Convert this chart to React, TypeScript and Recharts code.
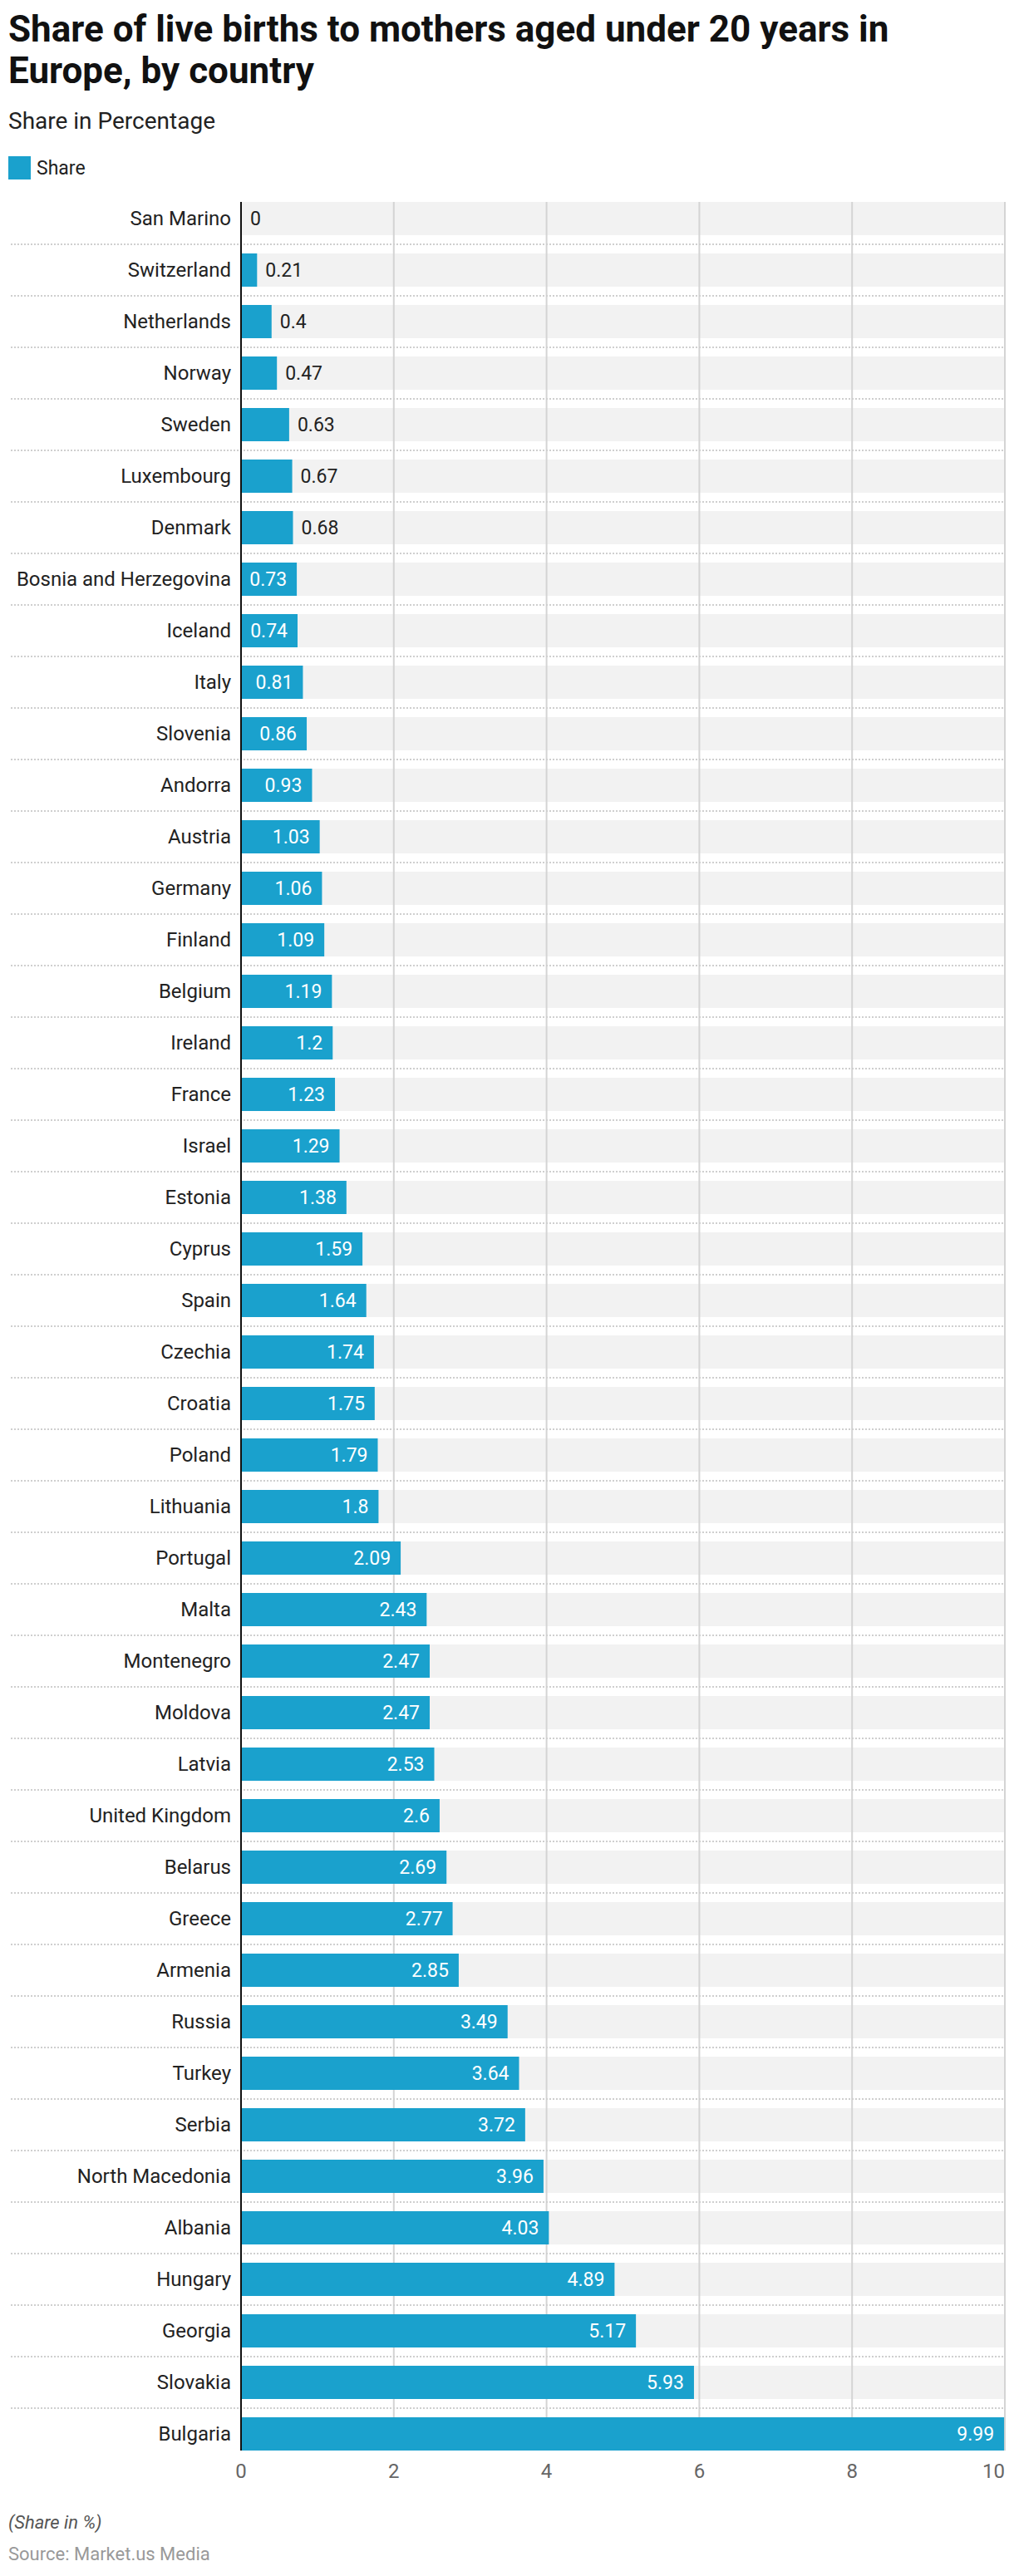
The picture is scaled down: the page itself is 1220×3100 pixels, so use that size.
import React from "react";
import { BarChart, Bar, XAxis, YAxis, CartesianGrid, LabelList } from "recharts";

const countries = [
  "San Marino", "Switzerland", "Netherlands", "Norway", "Sweden", "Luxembourg", "Denmark",
  "Bosnia and Herzegovina", "Iceland", "Italy", "Slovenia", "Andorra", "Austria", "Germany",
  "Finland", "Belgium", "Ireland", "France", "Israel", "Estonia", "Cyprus", "Spain", "Czechia",
  "Croatia", "Poland", "Lithuania", "Portugal", "Malta", "Montenegro", "Moldova", "Latvia",
  "United Kingdom", "Belarus", "Greece", "Armenia", "Russia", "Turkey", "Serbia",
  "North Macedonia", "Albania", "Hungary", "Georgia", "Slovakia", "Bulgaria",
];

const shares = [
  0, 0.21, 0.4, 0.47, 0.63, 0.67, 0.68,
  0.73, 0.74, 0.81, 0.86, 0.93, 1.03, 1.06,
  1.09, 1.19, 1.2, 1.23, 1.29, 1.38, 1.59, 1.64, 1.74,
  1.75, 1.79, 1.8, 2.09, 2.43, 2.47, 2.47, 2.53,
  2.6, 2.69, 2.77, 2.85, 3.49, 3.64, 3.72,
  3.96, 4.03, 4.89, 5.17, 5.93, 9.99,
];

const xTicks = [0, 2, 4, 6, 8, 10];

const data = countries.map((name, i) => ({ name, share: shares[i] }));

const BLUE = "#1aa1cd";
const CHART_W = 1220;
const CHART_H = 3000;
const PLOT_TOP = 232;
const AXIS_W = 290;
const X_AXIS_H = 40;
const RIGHT = 11;
const STEP = (CHART_H - X_AXIS_H - PLOT_TOP) / countries.length;
const BAR = 40;
const PAD = (STEP - BAR) / 2;
const LAST = countries.length - 1;
const FONT = "Roboto, 'Noto Sans', sans-serif";

// top / bottom edge of every bar row, used for the grey row stripes
const bandEdges = ({ yAxis, offset }: any) => {
  const scale = yAxis?.scale;
  const pts: number[] = [];
  countries.forEach((c, i) => {
    let center = NaN;
    try {
      if (typeof scale === "function" && typeof scale.bandwidth === "function") {
        center = scale(c) + scale.bandwidth() / 2;
      }
    } catch (e) {
      center = NaN;
    }
    if (!Number.isFinite(center)) {
      center = offset.top + (i + 0.5) * (offset.height / countries.length);
    }
    pts.push(center - BAR / 2, center + BAR / 2);
  });
  return pts;
};

const NoLine = (p: any) => <g key={p.key} />;

const GridLine = (p: any) => (
  <line
    key={p.key}
    x1={p.x1}
    x2={p.x2}
    y1={Math.min(p.y1, p.y2) + PAD}
    y2={Math.max(p.y1, p.y2) - PAD}
    stroke="#d4d4d4"
    strokeWidth={2}
  />
);

// country label + dotted row separator + axis segment
const CountryTick = ({ x, y, payload, index }: any) => (
  <g>
    <text x={x} y={y} textAnchor="end" dominantBaseline="central" fontSize={24} fill="#222" fontFamily={FONT}>
      {payload.value}
    </text>
    {index < LAST && (
      <line
        x1={13}
        x2={CHART_W - RIGHT}
        y1={y + STEP / 2}
        y2={y + STEP / 2}
        stroke="#cfcfcf"
        strokeWidth={2}
        strokeDasharray="2 2"
      />
    )}
    <line
      x1={x + 12}
      x2={x + 12}
      y1={index === 0 ? y - BAR / 2 : y - STEP / 2}
      y2={index === LAST ? y + BAR / 2 : y + STEP / 2}
      stroke="#111"
      strokeWidth={2}
    />
  </g>
);

const XTick = ({ x, y, payload }: any) => (
  <text
    x={x}
    y={y}
    dy="0.71em"
    textAnchor={payload.value === 10 ? "end" : "middle"}
    fontSize={24}
    fill="#666"
    fontFamily={FONT}
  >
    {payload.value}
  </text>
);

const ValueLabel = ({ x, y, width, height, value }: any) => {
  const inside = value >= 0.7;
  return (
    <text
      x={inside ? x + width - 12 : x + width + 10}
      y={y + height / 2}
      textAnchor={inside ? "end" : "start"}
      dominantBaseline="central"
      fontSize={23}
      fill={inside ? "#fff" : "#222"}
      fontFamily={FONT}
    >
      {value}
    </text>
  );
};

export default function App() {
  return (
    <div style={{ position: "relative", width: 1220, height: 3100, fontFamily: FONT, background: "#fff" }}>
      <style>{"body{margin:0}"}</style>
      <div
        style={{
          position: "absolute",
          left: 10,
          top: 10,
          width: 1200,
          fontSize: 44,
          lineHeight: "50px",
          fontWeight: 700,
          color: "#111",
        }}
      >
        Share of live births to mothers aged under 20 years in Europe, by country
      </div>
      <div style={{ position: "absolute", left: 10, top: 131, fontSize: 28, lineHeight: "30px", color: "#222" }}>
        Share in Percentage
      </div>
      <div style={{ position: "absolute", left: 10, top: 188, display: "flex", alignItems: "center", height: 28 }}>
        <div style={{ width: 27, height: 28, background: BLUE }} />
        <span style={{ marginLeft: 7, fontSize: 23, color: "#222" }}>Share</span>
      </div>

      <div style={{ position: "absolute", left: 0, top: 0 }}>
        <BarChart
          width={CHART_W}
          height={CHART_H}
          data={data}
          layout="vertical"
          margin={{ top: PLOT_TOP, right: RIGHT, bottom: 0, left: 0 }}
        >
          <CartesianGrid
            horizontal={NoLine}
            vertical={false}
            horizontalFill={["transparent", "#f2f2f2"]}
            horizontalCoordinatesGenerator={bandEdges}
          />
          <CartesianGrid horizontal={false} vertical={GridLine} />
          <XAxis
            type="number"
            domain={[0, 10]}
            ticks={xTicks}
            interval={0}
            axisLine={false}
            tickLine={false}
            tickSize={0}
            tickMargin={5}
            height={X_AXIS_H}
            tick={<XTick />}
          />
          <YAxis
            type="category"
            dataKey="name"
            width={AXIS_W}
            interval={0}
            axisLine={false}
            tickLine={false}
            tickSize={0}
            tickMargin={12}
            tick={<CountryTick />}
          />
          <Bar dataKey="share" fill={BLUE} barSize={BAR} minPointSize={1} isAnimationActive={false}>
            <LabelList dataKey="share" content={<ValueLabel />} />
          </Bar>
        </BarChart>
      </div>

      <div style={{ position: "absolute", left: 10, top: 3023, fontSize: 22, fontStyle: "italic", color: "#555" }}>
        (Share in %)
      </div>
      <div style={{ position: "absolute", left: 10, top: 3061, fontSize: 22, color: "#999" }}>
        Source: Market.us Media
      </div>
    </div>
  );
}
